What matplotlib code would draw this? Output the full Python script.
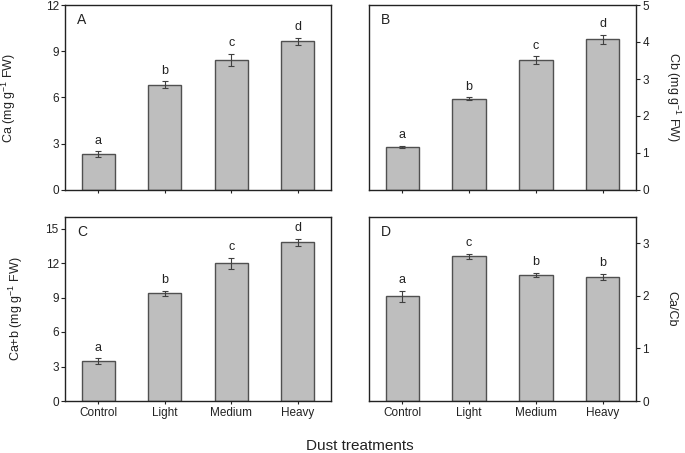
import matplotlib
matplotlib.use("Agg")
import matplotlib.pyplot as plt
import numpy as np

plt.rcParams['font.family'] = ['Liberation Sans', 'DejaVu Sans']
plt.rcParams['mathtext.default'] = 'regular'

categories = ["Control", "Light", "Medium", "Heavy"]

ca_vals = [2.33, 6.84, 8.42, 9.65]
ca_err = [0.17, 0.2, 0.4, 0.22]
ca_letters = ["a", "b", "c", "d"]

cb_vals = [1.16, 2.47, 3.51, 4.07]
cb_err = [0.03, 0.03, 0.1, 0.13]
cb_letters = ["a", "b", "c", "d"]

cab_vals = [3.48, 9.35, 11.96, 13.81]
cab_err = [0.22, 0.25, 0.5, 0.3]
cab_letters = ["a", "b", "c", "d"]

ratio_vals = [1.99, 2.75, 2.39, 2.36]
ratio_err = [0.1, 0.04, 0.04, 0.06]
ratio_letters = ["a", "c", "b", "b"]

fig = plt.figure(figsize=(6.85, 4.53), dpi=100)
W, H = 685, 453

def make_ax(l, r, t, b):
    return fig.add_axes([l / W, 1 - b / H, (r - l) / W, (b - t) / H])

axA = make_ax(65, 331, 5, 190)
axB = make_ax(369, 636, 5, 190)
axC = make_ax(65, 331, 217, 401)
axD = make_ax(369, 636, 217, 401)

panels = [
    (axA, ca_vals, ca_err, ca_letters, "A", (0, 12), [0, 3, 6, 9, 12], r"Ca (mg g$^{-1}$ FW)", "left", False),
    (axB, cb_vals, cb_err, cb_letters, "B", (0, 5), [0, 1, 2, 3, 4, 5], r"Cb (mg g$^{-1}$ FW)", "right", False),
    (axC, cab_vals, cab_err, cab_letters, "C", (0, 16), [0, 3, 6, 9, 12, 15], r"Ca+b (mg g$^{-1}$ FW)", "left", True),
    (axD, ratio_vals, ratio_err, ratio_letters, "D", (0, 3.5), [0, 1, 2, 3], "Ca/Cb", "right", True),
]

x = np.arange(len(categories))
for ax, vals, err, letters, tag, ylim, yticks, ylabel, side, showx in panels:
    ax.bar(x, vals, width=0.5, color="#bebebe", edgecolor="#505050", linewidth=1.0, zorder=2)
    ax.errorbar(x, vals, yerr=err, fmt="none", ecolor="#404040", elinewidth=0.8,
                capsize=2.5, capthick=0.8, zorder=3)
    for xi, v, e, lt in zip(x, vals, err, letters):
        ax.annotate(lt, (xi, v + e), xytext=(0, 3.5), textcoords="offset points",
                    ha="center", va="bottom", fontsize=9, color="#222222")
    ax.set_xlim(-0.5, 3.5)
    ax.set_ylim(*ylim)
    ax.set_yticks(yticks)
    ax.tick_params(axis="y", direction="out", length=3, width=0.8, labelsize=8.5, pad=1.5,
                   colors="#222222")
    ax.tick_params(axis="x", direction="out", length=2.5, width=0.8, labelsize=8.5, pad=2,
                   colors="#222222")
    ax.set_xticks(x)
    if showx:
        ax.set_xticklabels(categories)
    else:
        ax.set_xticklabels([])
    for sp in ax.spines.values():
        sp.set_linewidth(1.0)
        sp.set_color("#222222")
    if side == "right":
        ax.yaxis.tick_right()
        ax.yaxis.set_label_position("right")
        ax.set_ylabel(ylabel, rotation=270, fontsize=9, color="#222222")
    else:
        ax.set_ylabel(ylabel, fontsize=9, color="#222222")
    ax.yaxis.label.set_verticalalignment("center")
    ax.yaxis.label.set_horizontalalignment("center")
    ax.text(0.045, 0.92, tag, transform=ax.transAxes, fontsize=10, ha="left", va="center",
            color="#222222")

axA.yaxis.set_label_coords((9 - 65) / 266, 0.5)
axC.yaxis.set_label_coords((16 - 65) / 266, 0.5)
axB.yaxis.set_label_coords((673 - 369) / 267, 0.5)
axD.yaxis.set_label_coords((671 - 369) / 267, 0.5)

fig.text(360 / W, 1 - 446 / H, "Dust treatments", fontsize=11, ha="center", va="center",
         color="#222222")

fig.savefig("out.png", dpi=100)
